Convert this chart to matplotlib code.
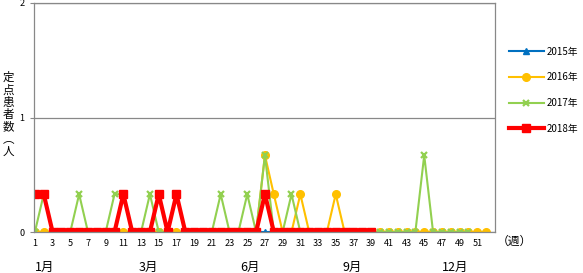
import matplotlib
matplotlib.use("Agg")
import matplotlib.pyplot as plt
import matplotlib.transforms as mtransforms

plt.rcParams['font.family'] = ['Noto Sans CJK JP', 'DejaVu Sans']

# weeks and series (定点患者数)
weeks = list(range(1, 53))
y2015 = [0] * 52
y2016 = [0, 0, 0, 0, 0, 0, 0, 0, 0, 0, 0, 0, 0, 0, 0, 0, 0, 0, 0, 0,
         0, 0, 0, 0, 0, 0, 0.67, 0.33, 0, 0, 0.33, 0, 0, 0, 0.33, 0, 0, 0, 0, 0,
         0, 0, 0, 0, 0, 0, 0, 0, 0, 0, 0, 0]
y2017 = [0, 0.33, 0, 0, 0, 0.33, 0, 0, 0, 0.33, 0.33, 0, 0, 0.33, 0, 0, 0.33, 0, 0, 0,
         0, 0.33, 0, 0, 0.33, 0, 0.67, 0, 0, 0.33, 0, 0, 0, 0, 0, 0, 0, 0, 0, 0,
         0, 0, 0, 0, 0.67, 0, 0, 0, 0, 0]
y2018 = [0.33, 0.33, 0, 0, 0, 0, 0, 0, 0, 0, 0.33, 0, 0, 0, 0.33, 0, 0.33, 0, 0, 0,
         0, 0, 0, 0, 0, 0, 0.33, 0, 0, 0, 0, 0, 0, 0, 0, 0, 0, 0, 0]

series_labels = ["2015年", "2016年", "2017年", "2018年"]
xtick_labels = [str(w) for w in range(1, 52, 2)]
month_labels = ["1月", "3月", "6月", "9月", "12月"]
month_pos = [2.1, 13.8, 25.3, 36.9, 48.5]
ylabel_chars = ["定", "点", "患", "者", "数", "︵", "人"]

fig = plt.figure(figsize=(5.83, 2.73), dpi=100)
ax = fig.add_axes([34 / 583, 1 - 232 / 273, (495 - 34) / 583, (232 - 3) / 273])

ax.plot(weeks[:len(y2015)], y2015, color="#0070C0", lw=1.5, marker="^", ms=4,
        label=series_labels[0])
ax.plot(weeks[:len(y2016)], y2016, color="#FFC000", lw=1.5, marker="o", ms=5.5,
        label=series_labels[1])
ax.plot(weeks[:len(y2017)], y2017, color="#92D050", lw=1.5, marker="x", ms=5,
        mew=1.6, label=series_labels[2])
ax.plot(weeks[:len(y2018)], y2018, color="#FF0000", lw=3, marker="s", ms=6,
        label=series_labels[3])

ax.set_xlim(0.9, 53)
ax.set_ylim(0, 2)
ax.set_yticks([0, 1, 2])
ax.set_xticks(range(1, 52, 2))
ax.set_xticklabels(xtick_labels, fontsize=6.5)
ax.tick_params(axis='y', labelsize=6.5, length=3, color="#888888", pad=4)
ax.tick_params(axis='x', length=0, pad=5)
ax.grid(axis='y', color="#888888", lw=0.9)
for s in ax.spines.values():
    s.set_color("#888888")
    s.set_linewidth(0.9)

# month labels under the week ticks
trans = mtransforms.blended_transform_factory(ax.transData, fig.transFigure)
for m, p in zip(month_labels, month_pos):
    ax.text(p, 1 - 267 / 273, m, transform=trans, ha="center", va="center",
            fontsize=9)

fig.text(514 / 583, 1 - 241 / 273, "（週）", ha="center", va="center", fontsize=8.5)

# vertical y label, one character per row (baseline aligned)
for i, ch in enumerate(ylabel_chars):
    fig.text(8 / 583, 1 - (81 + i * 12.3) / 273, ch, ha="center", va="baseline",
             fontsize=8.3)

ax.legend(loc="upper left", bbox_to_anchor=(505 / 583, 1 - 43 / 273),
          bbox_transform=fig.transFigure, frameon=False, fontsize=7,
          handlelength=3.6, labelspacing=1.6, handletextpad=0.3,
          borderaxespad=0)

fig.savefig("out.png", dpi=100)
